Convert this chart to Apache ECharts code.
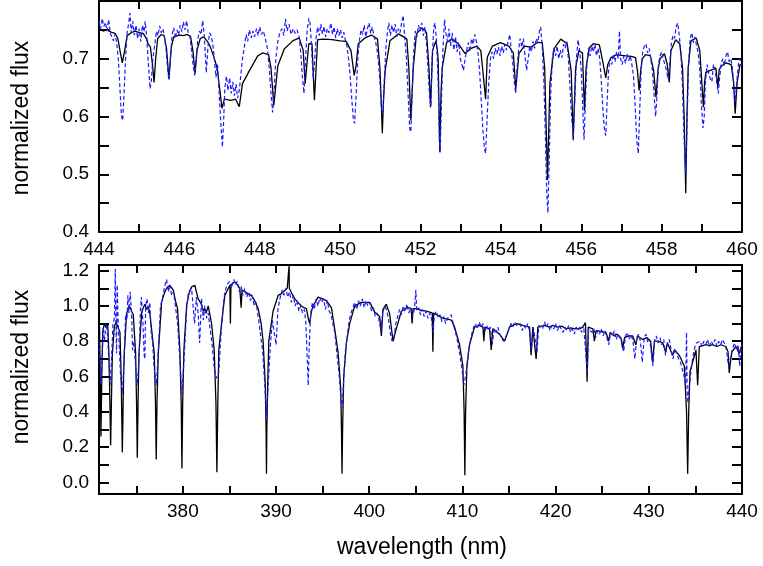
<!DOCTYPE html>
<html><head><meta charset="utf-8">
<script src="https://cdn.jsdelivr.net/npm/echarts@6/dist/echarts.min.js"></script>
<style>html,body{margin:0;padding:0;background:#fff}#c{width:763px;height:566px}</style>
</head><body><div id="c"></div>
<script>
// ---- top panel (444-460 nm) ----
var topXTicks = [444,446,448,450,452,454,456,458,460];
var topYTicks = [0.4,0.5,0.6,0.7];
var topModel = [[444.00,.752],[444.10,.748],[444.20,.750],[444.30,.746],[444.40,.744],[444.47,.735],[444.52,.715],[444.58,.693],[444.64,.715],[444.70,.740],[444.80,.745],[444.90,.748],[445.00,.745],[445.10,.744],[445.18,.735],[445.22,.726],[445.28,.720],[445.33,.690],[445.37,.659],[445.41,.700],[445.46,.735],[445.55,.742],[445.62,.740],[445.68,.718],[445.74,.665],[445.80,.720],[445.86,.738],[446.00,.741],[446.10,.740],[446.20,.742],[446.28,.738],[446.34,.712],[446.39,.674],[446.44,.715],[446.52,.735],[446.60,.738],[446.70,.730],[446.76,.722],[446.85,.705],[446.94,.684],[447.00,.650],[447.06,.614],[447.12,.630],[447.16,.633],[447.28,.628],[447.40,.630],[447.49,.617],[447.57,.657],[447.74,.679],[447.95,.705],[448.07,.710],[448.22,.707],[448.28,.684],[448.35,.619],[448.45,.688],[448.61,.717],[448.82,.731],[448.98,.736],[449.08,.715],[449.13,.657],[449.22,.726],[449.30,.726],[449.36,.628],[449.44,.733],[449.60,.734],[449.80,.733],[450.00,.731],[450.15,.730],[450.27,.714],[450.35,.671],[450.40,.690],[450.45,.726],[450.62,.736],[450.78,.741],[450.93,.734],[450.99,.684],[451.02,.630],[451.05,.571],[451.08,.630],[451.12,.679],[451.24,.731],[451.45,.743],[451.60,.737],[451.66,.734],[451.71,.684],[451.76,.593],[451.82,.684],[451.90,.743],[452.03,.753],[452.10,.750],[452.15,.745],[452.21,.684],[452.25,.616],[452.30,.714],[452.38,.731],[452.42,.715],[452.44,.697],[452.48,.538],[452.51,.640],[452.54,.684],[452.65,.728],[452.78,.734],[452.94,.726],[453.11,.709],[453.23,.717],[453.40,.722],[453.50,.714],[453.55,.680],[453.62,.630],[453.66,.702],[453.79,.722],[453.99,.728],[454.20,.722],[454.31,.710],[454.37,.648],[454.45,.709],[454.58,.722],[454.74,.720],[454.91,.728],[455.03,.728],[455.09,.684],[455.16,.490],[455.22,.657],[455.32,.717],[455.49,.734],[455.65,.726],[455.75,.679],[455.80,.559],[455.86,.684],[455.94,.714],[456.03,.710],[456.08,.610],[456.12,.684],[456.20,.719],[456.30,.726],[456.45,.724],[456.53,.697],[456.61,.667],[456.66,.690],[456.74,.702],[456.87,.707],[457.00,.706],[457.12,.705],[457.25,.704],[457.35,.702],[457.40,.678],[457.44,.645],[457.48,.680],[457.52,.700],[457.60,.707],[457.72,.705],[457.80,.680],[457.86,.633],[457.91,.680],[457.96,.700],[458.07,.709],[458.14,.690],[458.19,.659],[458.23,.714],[458.35,.733],[458.45,.726],[458.52,.684],[458.56,.600],[458.60,.467],[458.63,.600],[458.66,.684],[458.73,.731],[458.86,.736],[458.95,.714],[458.99,.670],[459.04,.616],[459.07,.660],[459.10,.676],[459.18,.679],[459.26,.681],[459.35,.684],[459.40,.650],[459.43,.680],[459.47,.686],[459.60,.693],[459.73,.690],[459.79,.660],[459.83,.605],[459.88,.660],[459.95,.690],[460.00,.690]];
var topObs = [[444.00,.765],[444.04,.752],[444.08,.770],[444.12,.756],[444.16,.763],[444.20,.748],[444.24,.768],[444.28,.744],[444.32,.738],[444.36,.731],[444.40,.743],[444.44,.728],[444.48,.700],[444.52,.650],[444.56,.600],[444.59,.593],[444.62,.635],[444.66,.700],[444.70,.745],[444.74,.762],[444.77,.779],[444.80,.745],[444.84,.765],[444.88,.741],[444.92,.758],[444.96,.735],[445.00,.752],[445.04,.730],[445.08,.758],[445.12,.747],[445.15,.765],[445.19,.735],[445.23,.690],[445.27,.648],[445.30,.660],[445.34,.700],[445.39,.726],[445.43,.748],[445.47,.740],[445.51,.757],[445.55,.745],[445.59,.752],[445.63,.738],[445.67,.715],[445.71,.680],[445.74,.663],[445.78,.705],[445.82,.742],[445.86,.754],[445.90,.735],[445.94,.750],[445.98,.741],[446.02,.758],[446.06,.747],[446.10,.764],[446.14,.750],[446.18,.766],[446.22,.745],[446.26,.740],[446.30,.716],[446.34,.690],[446.38,.671],[446.42,.702],[446.46,.735],[446.50,.748],[446.54,.742],[446.58,.766],[446.62,.740],[446.67,.676],[446.71,.720],[446.75,.745],[446.79,.740],[446.83,.726],[446.87,.700],[446.91,.668],[446.95,.690],[446.99,.640],[447.03,.590],[447.07,.547],[447.10,.590],[447.13,.648],[447.17,.670],[447.21,.645],[447.25,.667],[447.29,.640],[447.33,.660],[447.37,.636],[447.41,.656],[447.45,.632],[447.49,.645],[447.53,.672],[447.57,.700],[447.62,.722],[447.66,.742],[447.70,.730],[447.74,.750],[447.79,.736],[447.83,.748],[447.87,.738],[447.92,.752],[447.96,.740],[448.00,.755],[448.04,.742],[448.09,.748],[448.14,.735],[448.19,.718],[448.24,.680],[448.28,.640],[448.32,.607],[448.36,.650],[448.40,.700],[448.45,.730],[448.50,.745],[448.55,.752],[448.60,.740],[448.64,.769],[448.68,.748],[448.73,.760],[448.78,.742],[448.83,.752],[448.88,.744],[448.93,.750],[448.98,.738],[449.02,.710],[449.06,.670],[449.10,.640],[449.14,.700],[449.18,.750],[449.22,.770],[449.25,.762],[449.29,.720],[449.33,.665],[449.36,.690],[449.40,.735],[449.44,.755],[449.48,.740],[449.52,.760],[449.56,.743],[449.60,.756],[449.64,.738],[449.68,.752],[449.72,.745],[449.77,.762],[449.81,.742],[449.85,.755],[449.89,.736],[449.93,.752],[449.97,.740],[450.01,.750],[450.05,.736],[450.09,.746],[450.13,.732],[450.17,.722],[450.21,.700],[450.25,.670],[450.29,.630],[450.33,.595],[450.36,.588],[450.40,.640],[450.44,.700],[450.48,.732],[450.52,.750],[450.56,.742],[450.60,.758],[450.64,.738],[450.68,.752],[450.72,.762],[450.76,.744],[450.80,.755],[450.84,.740],[450.88,.730],[450.92,.715],[450.96,.690],[451.00,.650],[451.04,.605],[451.07,.610],[451.10,.665],[451.14,.720],[451.18,.748],[451.21,.762],[451.25,.740],[451.29,.758],[451.33,.745],[451.37,.760],[451.41,.738],[451.45,.752],[451.49,.745],[451.53,.762],[451.57,.775],[451.61,.735],[451.65,.700],[451.69,.640],[451.73,.580],[451.76,.573],[451.79,.640],[451.83,.710],[451.87,.748],[451.91,.738],[451.95,.758],[451.99,.748],[452.03,.762],[452.07,.740],[452.11,.755],[452.15,.725],[452.19,.680],[452.23,.630],[452.26,.618],[452.29,.700],[452.33,.755],[452.36,.762],[452.40,.730],[452.44,.660],[452.47,.560],[452.49,.538],[452.52,.620],[452.56,.720],[452.60,.768],[452.63,.745],[452.67,.730],[452.71,.752],[452.75,.722],[452.79,.745],[452.83,.715],[452.87,.738],[452.91,.712],[452.95,.728],[452.99,.700],[453.03,.690],[453.07,.680],[453.11,.700],[453.15,.715],[453.19,.728],[453.23,.712],[453.27,.735],[453.31,.725],[453.35,.742],[453.39,.730],[453.43,.710],[453.47,.680],[453.51,.630],[453.55,.580],[453.59,.545],[453.62,.536],[453.66,.600],[453.70,.660],[453.74,.700],[453.78,.712],[453.82,.700],[453.86,.718],[453.90,.708],[453.94,.720],[453.98,.705],[454.02,.722],[454.06,.710],[454.10,.725],[454.14,.715],[454.18,.730],[454.22,.742],[454.26,.715],[454.30,.690],[454.34,.655],[454.37,.640],[454.40,.680],[454.44,.715],[454.48,.735],[454.52,.720],[454.56,.735],[454.60,.705],[454.64,.680],[454.68,.700],[454.72,.722],[454.76,.712],[454.80,.730],[454.84,.718],[454.88,.735],[454.92,.728],[454.96,.748],[454.99,.755],[455.03,.720],[455.07,.660],[455.11,.560],[455.14,.470],[455.17,.433],[455.20,.520],[455.24,.640],[455.28,.700],[455.32,.718],[455.36,.705],[455.40,.722],[455.44,.700],[455.48,.715],[455.52,.702],[455.56,.725],[455.60,.718],[455.64,.730],[455.68,.700],[455.72,.650],[455.76,.600],[455.80,.565],[455.84,.630],[455.88,.700],[455.92,.733],[455.96,.715],[456.00,.680],[456.04,.610],[456.07,.560],[456.10,.620],[456.14,.690],[456.18,.718],[456.22,.705],[456.26,.722],[456.30,.712],[456.34,.725],[456.38,.705],[456.42,.718],[456.46,.700],[456.50,.660],[456.54,.610],[456.58,.575],[456.61,.567],[456.64,.620],[456.68,.680],[456.72,.700],[456.76,.690],[456.80,.708],[456.84,.695],[456.88,.712],[456.92,.700],[456.95,.748],[456.98,.700],[457.02,.690],[457.06,.705],[457.10,.692],[457.14,.708],[457.18,.697],[457.22,.705],[457.26,.690],[457.30,.670],[457.34,.620],[457.38,.560],[457.42,.536],[457.45,.600],[457.49,.680],[457.53,.712],[457.57,.722],[457.61,.726],[457.65,.710],[457.69,.718],[457.73,.700],[457.77,.680],[457.81,.640],[457.85,.600],[457.88,.630],[457.92,.690],[457.96,.705],[458.00,.712],[458.04,.700],[458.08,.690],[458.12,.680],[458.16,.665],[458.20,.690],[458.24,.725],[458.28,.740],[458.32,.735],[458.36,.755],[458.40,.762],[458.44,.740],[458.48,.710],[458.52,.650],[458.56,.560],[458.60,.500],[458.63,.580],[458.67,.690],[458.71,.735],[458.75,.745],[458.79,.728],[458.83,.738],[458.87,.722],[458.91,.710],[458.95,.680],[458.99,.620],[459.03,.580],[459.06,.600],[459.09,.660],[459.13,.690],[459.17,.676],[459.21,.665],[459.25,.660],[459.29,.690],[459.33,.682],[459.37,.660],[459.41,.640],[459.44,.665],[459.48,.690],[459.52,.700],[459.56,.688],[459.60,.705],[459.64,.712],[459.68,.695],[459.72,.700],[459.76,.685],[459.80,.650],[459.83,.625],[459.87,.660],[459.91,.690],[459.95,.700],[460.00,.688]];

// ---- bottom panel (371-440 nm) ----
var botXTicks = [380,390,400,410,420,430,440];
var botYTicks = [0.0,0.2,0.4,0.6,0.8,1.0,1.2];
var botModel = [[371.00,.62],[371.06,.88],[371.13,.60],[371.21,.26],[371.30,.60],[371.40,.85],[371.57,.90],[371.75,.88],[371.93,.90],[372.07,.72],[372.17,.45],[372.25,.21],[372.33,.45],[372.43,.72],[372.64,.88],[372.82,.91],[373.00,.92],[373.25,.85],[373.38,.60],[373.45,.35],[373.50,.17],[373.56,.35],[373.64,.60],[373.71,.73],[373.96,.957],[374.15,.98],[374.32,.995],[374.50,.97],[374.68,.95],[374.93,.73],[375.03,.45],[375.11,.14],[375.19,.45],[375.29,.73],[375.57,.957],[375.75,.99],[375.93,1.01],[376.10,.98],[376.29,.995],[376.45,.96],[376.64,.97],[376.93,.73],[377.06,.45],[377.14,.13],[377.22,.45],[377.36,.73],[377.72,1.023],[378.00,1.07],[378.25,1.10],[378.61,1.117],[378.97,1.09],[379.20,1.03],[379.43,.985],[379.68,.75],[379.82,.45],[379.90,.078],[379.98,.45],[380.11,.75],[380.40,1.00],[380.65,1.07],[380.93,1.108],[381.29,1.117],[381.45,1.08],[381.65,1.04],[382.00,1.01],[382.20,.97],[382.36,.985],[382.50,.96],[382.72,1.00],[383.08,.90],[383.36,.75],[383.55,.45],[383.65,.058],[383.75,.45],[383.86,.75],[384.15,.90],[384.50,1.06],[385.04,1.117],[385.10,.90],[385.16,1.12],[385.58,1.136],[385.85,1.12],[386.11,1.10],[386.25,.99],[386.35,1.09],[386.65,1.08],[387.00,1.07],[387.36,1.06],[387.70,1.03],[388.08,.985],[388.40,.90],[388.61,.80],[388.85,.55],[388.93,.30],[388.97,.049],[389.01,.30],[389.10,.55],[389.22,.80],[389.68,.97],[390.22,1.06],[390.60,1.07],[390.94,1.089],[391.20,1.10],[391.38,1.10],[391.40,1.23],[391.42,1.10],[391.70,1.07],[392.01,1.04],[392.35,1.02],[392.72,1.00],[393.00,.99],[393.26,.985],[393.45,.93],[393.61,.90],[393.80,.97],[393.97,1.00],[394.51,1.05],[394.69,1.04],[395.00,1.04],[395.40,1.03],[395.94,.99],[396.29,.87],[396.65,.74],[396.94,.53],[397.02,.30],[397.08,.049],[397.14,.30],[397.26,.60],[397.55,.79],[397.90,.90],[398.44,1.00],[399.15,1.02],[399.60,1.02],[400.05,1.02],[400.58,.965],[401.12,.94],[401.30,.83],[401.47,.98],[401.83,1.01],[402.19,.955],[402.55,.80],[402.90,.87],[403.44,.97],[404.15,.99],[404.50,.985],[404.60,.90],[404.70,.985],[405.05,.985],[405.60,.975],[406.12,.97],[406.76,.96],[406.83,.74],[406.90,.96],[407.40,.945],[407.91,.93],[408.40,.925],[408.80,.92],[409.16,.88],[409.69,.78],[410.05,.66],[410.18,.40],[410.26,.04],[410.34,.40],[410.48,.66],[410.76,.78],[411.30,.88],[411.84,.89],[412.20,.88],[412.30,.80],[412.40,.88],[412.91,.87],[413.09,.75],[413.26,.87],[413.98,.84],[414.52,.80],[415.05,.88],[415.77,.90],[416.48,.89],[417.20,.88],[417.37,.72],[417.55,.88],[417.91,.70],[418.09,.88],[418.27,.88],[418.80,.89],[419.34,.88],[419.70,.89],[420.20,.88],[420.70,.885],[421.12,.87],[421.60,.875],[422.10,.87],[422.55,.87],[422.90,.88],[423.20,.905],[423.38,.57],[423.50,.88],[423.63,.88],[424.00,.87],[424.16,.80],[424.34,.86],[424.90,.855],[425.41,.85],[425.70,.80],[425.85,.85],[426.31,.83],[426.60,.84],[427.00,.82],[427.20,.76],[427.40,.82],[427.80,.83],[428.27,.83],[428.60,.78],[428.80,.83],[429.34,.81],[429.80,.82],[430.20,.80],[430.41,.68],[430.60,.80],[431.00,.80],[431.49,.79],[431.80,.74],[432.00,.79],[432.20,.79],[432.56,.72],[432.74,.75],[433.27,.72],[433.81,.66],[434.05,.40],[434.17,.049],[434.28,.40],[434.42,.63],[434.70,.68],[435.06,.75],[435.24,.55],[435.42,.77],[436.13,.78],[436.50,.775],[436.85,.78],[437.30,.77],[437.74,.78],[438.27,.77],[438.50,.74],[438.63,.62],[438.80,.70],[438.92,.74],[439.35,.77],[439.70,.73],[440.00,.78]];
var botObs = [[371.00,.80],[371.10,.70],[371.20,.55],[371.30,.65],[371.45,.88],[371.60,.80],[371.75,.90],[371.90,.85],[372.05,.70],[372.20,.55],[372.35,.70],[372.50,.90],[372.65,.93],[372.75,1.21],[372.80,.95],[372.88,.73],[372.95,1.12],[373.05,.92],[373.15,.80],[373.30,.62],[373.50,.50],[373.70,.70],[373.85,.95],[374.00,.92],[374.10,1.06],[374.20,.96],[374.35,1.08],[374.50,.95],[374.60,.75],[374.75,.80],[374.90,.68],[375.10,.55],[375.30,.70],[375.45,.98],[375.55,1.05],[375.70,.92],[375.85,.72],[375.93,.70],[376.00,1.00],[376.15,1.04],[376.30,.96],[376.45,1.02],[376.60,.85],[376.75,.80],[376.90,.66],[377.14,.55],[377.35,.72],[377.60,1.00],[377.80,1.04],[378.00,1.10],[378.25,1.15],[378.45,1.08],[378.60,1.12],[378.80,1.06],[379.00,1.08],[379.20,1.00],[379.43,.90],[379.65,.72],[379.90,.50],[380.15,.72],[380.40,.98],[380.60,1.08],[380.93,1.10],[381.10,1.00],[381.25,.90],[381.45,1.05],[381.65,.95],[381.80,.79],[382.00,1.04],[382.20,.92],[382.36,1.00],[382.55,.93],[382.72,.96],[382.90,.88],[383.10,.80],[383.35,.66],[383.60,.59],[383.85,.62],[384.10,.85],[384.30,.98],[384.50,1.08],[384.75,1.12],[385.00,1.14],[385.20,1.10],[385.45,1.15],[385.65,1.12],[385.85,1.14],[386.05,1.08],[386.25,1.11],[386.45,1.06],[386.65,1.10],[386.85,1.05],[387.05,1.08],[387.25,1.03],[387.45,1.06],[387.65,1.00],[387.85,1.02],[388.05,.95],[388.30,.85],[388.55,.75],[388.80,.55],[388.97,.35],[389.15,.55],[389.40,.78],[389.60,.92],[389.80,.85],[390.00,.78],[390.20,.98],[390.45,1.05],[390.65,1.09],[390.85,1.06],[391.05,1.10],[391.25,1.05],[391.45,1.08],[391.65,1.02],[391.85,1.06],[392.05,1.00],[392.25,1.03],[392.45,.97],[392.65,1.00],[392.85,.96],[393.05,.98],[393.20,.90],[393.35,.70],[393.45,.55],[393.55,.75],[393.70,.95],[393.90,1.02],[394.10,.98],[394.30,1.04],[394.50,1.00],[394.70,1.05],[394.90,1.02],[395.10,1.04],[395.30,.98],[395.50,1.03],[395.70,.97],[395.90,.95],[396.10,.90],[396.30,.85],[396.55,.72],[396.75,.62],[396.95,.48],[397.10,.42],[397.25,.58],[397.45,.75],[397.65,.83],[397.85,.92],[398.05,.96],[398.25,.99],[398.45,1.02],[398.65,.98],[398.85,1.03],[399.05,1.00],[399.25,1.04],[399.45,.99],[399.65,1.03],[399.85,1.00],[400.05,1.02],[400.25,.97],[400.45,.99],[400.65,.94],[400.85,.96],[401.05,.92],[401.25,.86],[401.45,.96],[401.65,1.00],[401.85,.98],[402.05,.93],[402.25,.85],[402.45,.80],[402.65,.82],[402.85,.90],[403.05,.94],[403.25,.98],[403.45,.95],[403.65,1.00],[403.85,.97],[404.05,1.01],[404.25,.96],[404.45,.99],[404.65,.94],[404.85,.98],[405.00,1.09],[405.10,.97],[405.30,.99],[405.50,.95],[405.70,.98],[405.90,.94],[406.10,.97],[406.30,.93],[406.50,.96],[406.70,.92],[406.85,.85],[407.00,.95],[407.20,.97],[407.40,.93],[407.60,.95],[407.80,.91],[408.00,.94],[408.20,.90],[408.40,.93],[408.60,.92],[408.80,.95],[409.00,.90],[409.20,.86],[409.40,.82],[409.60,.76],[409.80,.70],[410.00,.62],[410.15,.55],[410.30,.56],[410.45,.64],[410.60,.72],[410.80,.79],[411.00,.84],[411.20,.88],[411.40,.90],[411.60,.87],[411.80,.91],[412.00,.88],[412.20,.90],[412.40,.85],[412.60,.89],[412.80,.86],[413.00,.88],[413.20,.78],[413.40,.87],[413.60,.85],[413.80,.88],[414.00,.84],[414.20,.82],[414.40,.80],[414.60,.79],[414.80,.84],[415.00,.87],[415.20,.90],[415.40,.88],[415.60,.91],[415.80,.89],[416.00,.88],[416.20,.90],[416.40,.86],[416.60,.89],[416.80,.87],[417.00,.90],[417.20,.86],[417.40,.75],[417.60,.88],[417.80,.87],[418.00,.74],[418.20,.89],[418.40,.90],[418.60,.87],[418.80,.91],[419.00,.88],[419.20,.90],[419.40,.86],[419.60,.89],[419.80,.87],[420.00,.90],[420.20,.86],[420.40,.89],[420.60,.87],[420.80,.85],[421.00,.88],[421.20,.86],[421.40,.89],[421.60,.85],[421.80,.87],[422.00,.84],[422.20,.88],[422.40,.86],[422.60,.88],[422.80,.85],[423.00,.89],[423.20,.90],[423.40,.62],[423.55,.87],[423.70,.88],[423.90,.85],[424.10,.87],[424.30,.82],[424.50,.86],[424.70,.84],[424.90,.87],[425.10,.83],[425.30,.86],[425.50,.82],[425.70,.78],[425.90,.85],[426.10,.83],[426.30,.86],[426.50,.81],[426.70,.84],[426.90,.82],[427.10,.80],[427.30,.74],[427.50,.83],[427.70,.85],[427.90,.81],[428.10,.84],[428.30,.80],[428.50,.70],[428.70,.82],[428.90,.84],[429.10,.80],[429.30,.68],[429.50,.82],[429.70,.84],[429.90,.79],[430.10,.81],[430.30,.72],[430.45,.66],[430.60,.80],[430.80,.83],[431.00,.79],[431.20,.82],[431.40,.78],[431.60,.81],[431.80,.72],[432.00,.79],[432.20,.81],[432.40,.75],[432.60,.70],[432.80,.76],[433.00,.73],[433.20,.70],[433.40,.68],[433.60,.64],[433.80,.60],[433.95,.55],[434.05,.85],[434.12,.50],[434.20,.45],[434.35,.55],[434.50,.62],[434.70,.70],[434.90,.76],[435.10,.79],[435.30,.78],[435.50,.80],[435.70,.77],[435.90,.80],[436.10,.78],[436.30,.81],[436.50,.77],[436.70,.80],[436.90,.78],[437.10,.81],[437.30,.77],[437.50,.80],[437.70,.78],[437.90,.81],[438.10,.79],[438.30,.76],[438.50,.68],[438.65,.66],[438.80,.72],[439.00,.76],[439.20,.79],[439.40,.75],[439.60,.78],[439.75,.66],[439.90,.76],[440.00,.78]];

function range(a, b, s) { var r = []; for (var v = a; v <= b + 1e-9; v += s) r.push(Math.round(v * 1000) / 1000); return r; }
var FONT = 'Liberation Sans, Arial, sans-serif';
var lineCol = '#000';
function xAx(grid, min, max, labels, ticks, pos, show) {
  return { type: 'value', gridIndex: grid, min: min, max: max, position: pos,
    axisLine: { show: true, onZero: false, lineStyle: { color: lineCol, width: 2 } },
    axisTick: { show: true, inside: true, length: 8, customValues: ticks, lineStyle: { color: lineCol, width: 2 } },
    axisLabel: { show: show, customValues: labels, margin: 8, color: '#000', fontSize: 19, fontFamily: FONT },
    splitLine: { show: false } };
}
function yAx(grid, min, max, labels, ticks, pos, show) {
  return { type: 'value', gridIndex: grid, min: min, max: max, position: pos,
    axisLine: { show: true, onZero: false, lineStyle: { color: lineCol, width: 2 } },
    axisTick: { show: true, inside: true, length: 10, customValues: ticks, lineStyle: { color: lineCol, width: 2 } },
    axisLabel: { show: show, customValues: labels, margin: 10, color: '#000', fontSize: 19, fontFamily: FONT,
      formatter: function (v) { return v.toFixed(1); } },
    splitLine: { show: false } };
}
function lineSeries(data, xi, yi, black) {
  return { type: 'line', data: data, xAxisIndex: xi, yAxisIndex: yi, showSymbol: false, symbol: 'none',
    clip: true, animation: false, silent: true,
    lineStyle: black ? { color: '#000', width: 1.3 } : { color: '#1a1aff', width: 1.2, type: [4, 2.5] } };
}
var chart = echarts.init(document.getElementById('c'), null, { renderer: 'canvas' });
chart.setOption({
  backgroundColor: '#fff',
  animation: false,
  grid: [
    { left: 99, top: 1, width: 643, height: 231 },
    { left: 99, top: 265, width: 643, height: 229 }
  ],
  xAxis: [
    xAx(0, 444, 460, topXTicks, range(444, 460, 1), 'bottom', true),
    xAx(0, 444, 460, topXTicks, range(444, 460, 1), 'top', false),
    xAx(1, 371, 440, botXTicks, range(375, 440, 5), 'bottom', true),
    xAx(1, 371, 440, botXTicks, range(375, 440, 5), 'top', false)
  ],
  yAxis: [
    yAx(0, 0.4, 0.8, topYTicks, range(0.4, 0.8, 0.05), 'left', true),
    yAx(0, 0.4, 0.8, topYTicks, range(0.4, 0.8, 0.05), 'right', false),
    yAx(1, -0.066, 1.232, botYTicks, range(0, 1.2, 0.1), 'left', true),
    yAx(1, -0.066, 1.232, botYTicks, range(0, 1.2, 0.1), 'right', false)
  ],
  series: [
    lineSeries(topModel, 0, 0, true),
    lineSeries(topObs, 0, 0, false),
    lineSeries(botModel, 2, 2, true),
    lineSeries(botObs, 2, 2, false)
  ],
  graphic: [
    { type: 'text', x: 22, y: 118, rotation: Math.PI / 2, style: { text: 'normalized flux', fontSize: 23, fontFamily: FONT, fill: '#000', align: 'center', verticalAlign: 'middle' } },
    { type: 'text', x: 22, y: 367, rotation: Math.PI / 2, style: { text: 'normalized flux', fontSize: 23, fontFamily: FONT, fill: '#000', align: 'center', verticalAlign: 'middle' } },
    { type: 'text', x: 422, y: 548, style: { text: 'wavelength (nm)', fontSize: 23, fontFamily: FONT, fill: '#000', align: 'center', verticalAlign: 'middle' } }
  ]
});
</script></body></html>
